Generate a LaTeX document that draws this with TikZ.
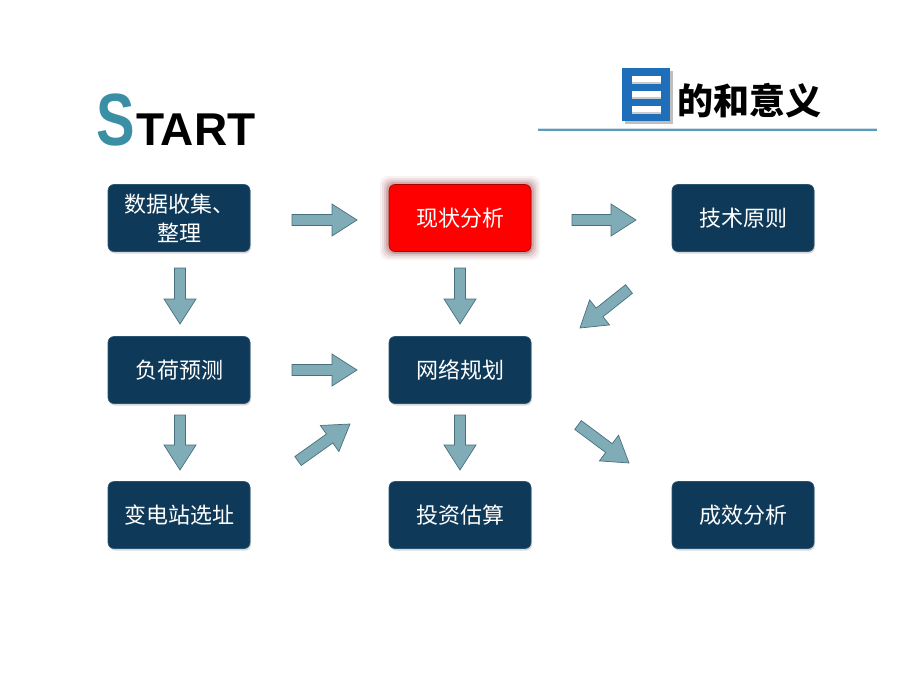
\documentclass[tikz,border=0pt]{standalone}
\usepackage{fontspec}
\setmainfont{Liberation Sans}
\newfontfamily\cjk{Noto Sans CJK SC}
\usetikzlibrary{calc,shadows}
\definecolor{navy}{RGB}{14,57,88}
\definecolor{navyline}{RGB}{40,85,115}
\definecolor{arrowfill}{RGB}{128,172,184}
\definecolor{arrowline}{RGB}{72,112,124}
\definecolor{steal}{RGB}{58,143,165}
\definecolor{iconblue}{RGB}{30,110,185}
\definecolor{rulecol}{RGB}{90,155,185}
\definecolor{glow}{RGB}{120,0,0}
\tikzset{
  box/.style={draw=navyline, line width=0.6pt, fill=navy, rounded corners=6pt,
    minimum width=142pt, minimum height=67pt, inner sep=0pt, text=white,
    font=\cjk\fontsize{22}{29}\selectfont, align=center,
    drop shadow={opacity=0.3, shadow xshift=1pt, shadow yshift=-2pt}},
  redbox/.style={box, fill=red, draw={rgb,255:red,170;green,0;blue,0}, drop shadow={opacity=0}},
  barrow/.style={draw=arrowline, fill=arrowfill, line width=0.7pt, line join=miter},
}
\newcommand\blockarrow[2]{%
\draw[barrow] let \p1=($(#2)-(#1)$), \n1={atan2(\y1,\x1)}, \n2={veclen(\x1,\y1)-25} in
 ($(#1)+(\n1+90:5.5pt)$) -- ($(#1)+(\n1:\n2)+(\n1+90:5.5pt)$) --
 ($(#1)+(\n1:\n2)+(\n1+90:16pt)$) -- (#2) --
 ($(#1)+(\n1:\n2)+(\n1-90:16pt)$) -- ($(#1)+(\n1:\n2)+(\n1-90:5.5pt)$) --
 ($(#1)+(\n1-90:5.5pt)$) -- cycle;}
\begin{document}
\begin{tikzpicture}[x=1pt,y=-1pt]
\useasboundingbox[fill=white] (0,0) rectangle (920,690);
% title START
\node[anchor=base west, inner sep=0pt, text=steal, xscale=0.78, font=\bfseries\fontsize{74}{74}\selectfont] (S) at (96,146) {S};
\node[anchor=base west, inner sep=0pt, font=\bfseries\fontsize{46}{46}\selectfont] (tart) at (136,145) {TART};
% heading icon
\fill[black!25] (625,71) rectangle (673,124);
\fill[iconblue] (622,68) rectangle (670,121);
\foreach \yy in {76,91,106} \fill[white] (632,\yy) rectangle (661,\yy+8);
\foreach \yy in {76,91,106} \fill[black!20] (632,\yy+6) rectangle (661,\yy+8);
\node[anchor=west, inner sep=0pt, font=\cjk\bfseries\fontsize{36}{36}\selectfont] (head) at (677,101) {的和意义};
\draw[rulecol, line width=3pt] (538,129) -- (877,129);
\draw[white!70!rulecol, line width=0.8pt] (538,128) -- (877,128);
% glow for red box
\foreach \g/\o in {9/0.05,7/0.07,5/0.1,3/0.15}
  \fill[glow, opacity=\o, rounded corners=8pt] (389-\g,185-\g) rectangle (531+\g,251+\g);
% boxes
\node[box] (b1) at (179,218) {数据收集、\\整理};
\node[redbox] (b2) at (460,218) {现状分析};
\node[box] (b3) at (743,218) {技术原则};
\node[box] (b4) at (179,370) {负荷预测};
\node[box] (b5) at (460,370) {网络规划};
\node[box] (b6) at (179,515) {变电站选址};
\node[box] (b7) at (460,515) {投资估算};
\node[box] (b8) at (743,515) {成效分析};
% arrow end points
\coordinate (h1s) at (292,220); \coordinate (h1e) at (357,220);
\coordinate (h2s) at (572,220); \coordinate (h2e) at (636,220);
\coordinate (v1s) at (180,268); \coordinate (v1e) at (180,324);
\coordinate (v2s) at (460,268); \coordinate (v2e) at (460,324);
\coordinate (d1s) at (629,289); \coordinate (d1e) at (580,328);
\coordinate (h3s) at (292,370); \coordinate (h3e) at (357,370);
\coordinate (v3s) at (180,415); \coordinate (v3e) at (180,470);
\coordinate (v4s) at (460,415); \coordinate (v4e) at (460,470);
\coordinate (d2s) at (298,461); \coordinate (d2e) at (350,424);
\coordinate (d3s) at (578,425); \coordinate (d3e) at (629,463);
\blockarrow{h1s}{h1e}
\blockarrow{h2s}{h2e}
\blockarrow{v1s}{v1e}
\blockarrow{v2s}{v2e}
\blockarrow{d1s}{d1e}
\blockarrow{h3s}{h3e}
\blockarrow{v3s}{v3e}
\blockarrow{v4s}{v4e}
\blockarrow{d2s}{d2e}
\blockarrow{d3s}{d3e}
\end{tikzpicture}
\end{document}
